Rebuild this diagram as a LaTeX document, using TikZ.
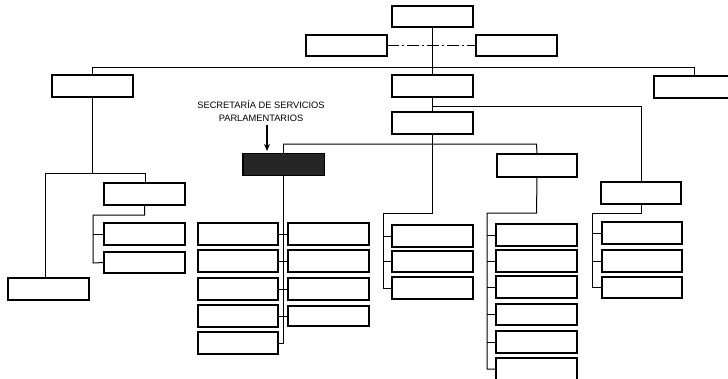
\documentclass[tikz,border=0pt]{standalone}
\usepackage{fontspec}
\setmainfont{Liberation Sans}
\usetikzlibrary{arrows.meta}
\begin{document}
\begin{tikzpicture}[x=1pt,y=-1pt,
  box/.style={draw, line width=1.3pt, minimum width=80pt, minimum height=21pt, inner sep=0pt, fill=white},
  darkbox/.style={box, fill=black!85},
  conn/.style={line width=1pt},
  lbl/.style={font=\fontsize{9.3}{11}\selectfont, align=center, inner sep=0pt}]
\useasboundingbox (0,0) rectangle (728,378);
\clip (0,0) rectangle (728,378);
\fill[white] (0,0) rectangle (728,378);

\coordinate (busL) at (92.5,67.5);
\coordinate (busR) at (694.5,67.5);
\coordinate (jc2) at (432.5,106);
\coordinate (jc3) at (432.5,144);
\coordinate (jsec) at (283,144);
\coordinate (jm) at (536.5,144);

% nodes
\node[box] (top) at (432.5,16.5) {};
\node[box] (asL) at (346.5,45.5) {};
\node[box] (asR) at (516.5,45.5) {};
\node[box] (L1) at (92.5,86) {};
\node[box] (C2) at (432.5,86) {};
\node[box] (R1) at (694.5,87) {};
\node[box] (C3) at (432.5,123) {};
\node[darkbox] (sec) at (283.5,164.5) {};
\node[box, minimum height=22pt] (M) at (537,165.5) {};
\node[box] (R) at (641,193) {};
\node[box] (L2) at (144.5,194) {};
\node[box] (L2a) at (144.5,234) {};
\node[box, minimum height=20pt] (L2b) at (144.5,262.5) {};
\node[box] (LL) at (48.5,289) {};
\node[box] (sl1) at (238,234) {};
\node[box] (sl2) at (238,261) {};
\node[box] (sl3) at (238,289) {};
\node[box] (sl4) at (238,316) {};
\node[box] (sl5) at (238,343) {};
\node[box] (sr1) at (328.5,234) {};
\node[box] (sr2) at (328.5,261) {};
\node[box] (sr3) at (328.5,289) {};
\node[box, minimum height=20pt] (sr4) at (328.5,316) {};
\node[box] (c1) at (432.5,236) {};
\node[box, minimum height=20pt] (c2) at (432.5,261.5) {};
\node[box] (c3) at (432.5,288) {};
\node[box] (m1) at (536.5,235) {};
\node[box] (m2) at (536.5,261) {};
\node[box] (m3) at (536.5,287) {};
\node[box] (m4) at (536.5,314.5) {};
\node[box] (m5) at (536.5,342) {};
\node[box] (m6) at (536.5,369) {};
\node[box] (r1) at (642,233) {};
\node[box] (r2) at (642,261) {};
\node[box] (r3) at (642,287.5) {};

% label and arrow
\node[lbl] (seclbl) at (261,111) {SECRETAR\'IA DE SERVICIOS\\[2pt]PARLAMENTARIOS};
\coordinate (arrS) at (267,125);
\draw[line width=1.2pt, -{Stealth[length=7pt,width=6pt]}] (arrS) -- (267,151);

% top structure
\draw[conn] (top.south) -- (C2.north);
\draw[conn, dash pattern=on 12pt off 3pt on 2pt off 3pt] (asL.east) -- (asR.west);
\draw[conn] (L1.north) |- (busL) -- (busR) -- (R1.north);
\draw[conn] (C2.south) -- (C3.north);
\draw[conn] (jc2) -| (R.north);
\draw[conn] (jsec) -- (jm) -- (M.north);
\draw[conn] (jsec) -- (sec.north -| jsec);

% left branch
\draw[conn] (L1.south) -- (92.5,173) coordinate (jl);
\draw[conn] (45,173) -- (145,173) -- (L2.north -| 145,0);
\draw[conn] (45,173) -- (LL.north -| 45,0);
\draw[conn] (L2.south) -- (144.5,215) -- (93,215) -- (93,263) -- (L2b.west);
\draw[conn] (93,234) -- (L2a.west);

% secretaria branch
\draw[conn] (sec.south -| jsec) -- (283,343) -- (sl5.east);
\foreach \n in {sl1,sl2,sl3,sl4} \draw[conn] (\n.east) -- (\n.east -| 283,0);
\foreach \n in {sr1,sr2,sr3,sr4} \draw[conn] (\n.west) -- (\n.west -| 283,0);

% center branch
\draw[conn] (C3.south) -- (432.5,213) -- (383,213) -- (383,288) -- (c3.west);
\foreach \n in {c1,c2} \draw[conn] (\n.west) -- (\n.west -| 383,0);

% M branch
\draw[conn] (M.south) -- (536.5,213) -- (487,213) -- (487,369) -- (m6.west);
\foreach \n in {m1,m2,m3,m4,m5} \draw[conn] (\n.west) -- (\n.west -| 487,0);

% R branch
\draw[conn] (R.south) -- (641,213) -- (592,213) -- (592,287.5) -- (r3.west);
\foreach \n in {r1,r2} \draw[conn] (\n.west) -- (\n.west -| 592,0);

% redraw box outlines on top of lines
\foreach \n in {top,asL,asR,L1,C2,R1,C3,M,R,L2,L2a,L2b,LL,sl1,sl2,sl3,sl4,sl5,sr1,sr2,sr3,sr4,c1,c2,c3,m1,m2,m3,m4,m5,m6,r1,r2,r3}
  \draw[line width=1.3pt] (\n.north west) rectangle (\n.south east);
\draw[line width=1.3pt, fill=black!85] (sec.north west) rectangle (sec.south east);
\end{tikzpicture}
\end{document}
